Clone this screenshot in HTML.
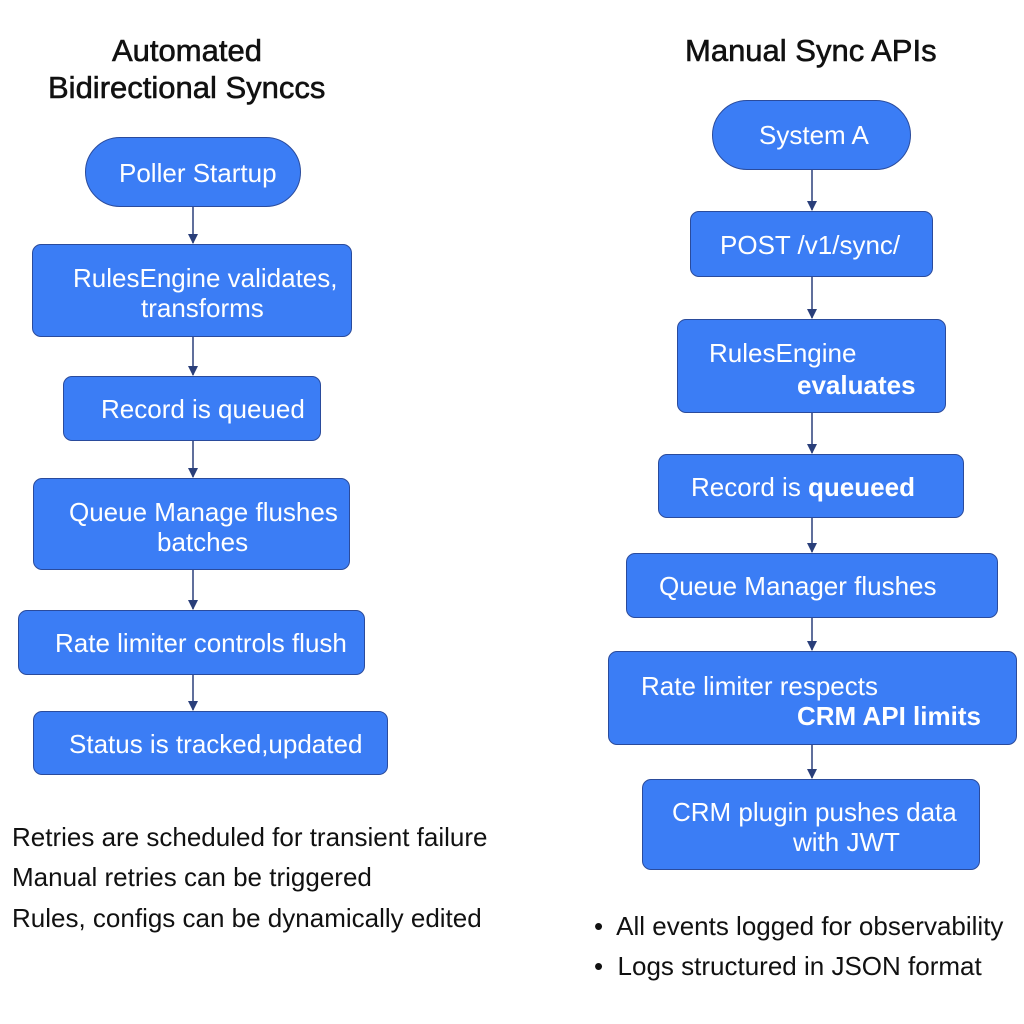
<!DOCTYPE html>
<html><head><style>
body{margin:0;width:1024px;height:1024px;background:#fff;position:relative;font-family:"Liberation Sans",sans-serif;overflow:hidden}
.b{position:absolute;background:#3b7df5;border:1.5px solid #2a4b9c;border-radius:9px;box-sizing:border-box}
.p{border-radius:40px}
.t{position:absolute;color:#fff;font-size:26px;line-height:30px;white-space:nowrap}
.k{position:absolute;color:#111;font-size:26px;line-height:30px;white-space:nowrap}
.h{position:absolute;color:#111;font-size:31px;line-height:36px;white-space:nowrap;-webkit-text-stroke:0.6px #111}
b{font-weight:bold}
</style></head><body>
<svg width="1024" height="1024" style="position:absolute;left:0;top:0">
<defs><marker id="a" markerWidth="10" markerHeight="10" refX="9" refY="5" orient="auto" markerUnits="userSpaceOnUse"><path d="M0,0 L10,5 L0,10 z" fill="#2a3f7a"/></marker></defs>
<g stroke="#2a3f7a" stroke-width="1.5" marker-end="url(#a)">
<line x1="193" y1="207" x2="193" y2="243"/>
<line x1="193" y1="337" x2="193" y2="375"/>
<line x1="193" y1="441" x2="193" y2="477"/>
<line x1="193" y1="570" x2="193" y2="609"/>
<line x1="193" y1="675" x2="193" y2="710"/>
<line x1="812" y1="170" x2="812" y2="210"/>
<line x1="812" y1="277" x2="812" y2="318"/>
<line x1="812" y1="413" x2="812" y2="453"/>
<line x1="812" y1="518" x2="812" y2="552"/>
<line x1="812" y1="618" x2="812" y2="650"/>
<line x1="812" y1="745" x2="812" y2="778"/>
</g></svg>

<div class="h" style="left:112px;top:33px">Automated</div>
<div class="h" style="left:48px;top:70px">Bidirectional Synccs</div>
<div class="h" style="left:685px;top:33px">Manual Sync APIs</div>

<div class="b p" style="left:85px;top:137px;width:216px;height:70px"></div>
<div class="t" style="left:119px;top:158px">Poller Startup</div>
<div class="b" style="left:32px;top:244px;width:320px;height:93px"></div>
<div class="t" style="left:73px;top:263px">RulesEngine validates,</div>
<div class="t" style="left:141px;top:293px">transforms</div>
<div class="b" style="left:63px;top:376px;width:258px;height:65px"></div>
<div class="t" style="left:101px;top:394px">Record is queued</div>
<div class="b" style="left:33px;top:478px;width:317px;height:92px"></div>
<div class="t" style="left:69px;top:497px">Queue Manage flushes</div>
<div class="t" style="left:157px;top:527px">batches</div>
<div class="b" style="left:18px;top:610px;width:347px;height:65px"></div>
<div class="t" style="left:55px;top:628px">Rate limiter controls flush</div>
<div class="b" style="left:33px;top:711px;width:355px;height:64px"></div>
<div class="t" style="left:69px;top:729px">Status is tracked,updated</div>

<div class="b p" style="left:712px;top:100px;width:199px;height:70px"></div>
<div class="t" style="left:759px;top:120px">System A</div>
<div class="b" style="left:690px;top:211px;width:243px;height:66px"></div>
<div class="t" style="left:720px;top:230px">POST /v1/sync/</div>
<div class="b" style="left:677px;top:319px;width:269px;height:94px"></div>
<div class="t" style="left:709px;top:338px">RulesEngine</div>
<div class="t" style="left:797px;top:370px"><b>evaluates</b></div>
<div class="b" style="left:658px;top:454px;width:306px;height:64px"></div>
<div class="t" style="left:691px;top:472px">Record is <b>queueed</b></div>
<div class="b" style="left:626px;top:553px;width:372px;height:65px"></div>
<div class="t" style="left:659px;top:571px">Queue Manager flushes</div>
<div class="b" style="left:608px;top:651px;width:409px;height:94px"></div>
<div class="t" style="left:641px;top:671px">Rate limiter respects</div>
<div class="t" style="left:797px;top:701px"><b>CRM API limits</b></div>
<div class="b" style="left:642px;top:779px;width:338px;height:91px"></div>
<div class="t" style="left:672px;top:797px">CRM plugin pushes data</div>
<div class="t" style="left:793px;top:827px">with JWT</div>

<div class="k" style="left:12px;top:822px">Retries are scheduled for transient failure</div>
<div class="k" style="left:12px;top:862px">Manual retries can be triggered</div>
<div class="k" style="left:12px;top:903px">Rules, configs can be dynamically edited</div>
<div class="k" style="left:594px;top:911px">•&nbsp; All events logged for observability</div>
<div class="k" style="left:594px;top:951px">•&nbsp; Logs structured in JSON format</div>
</body></html>
